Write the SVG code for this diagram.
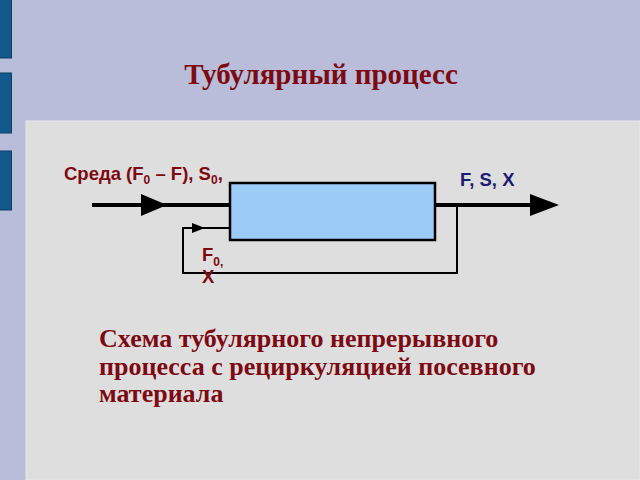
<svg xmlns="http://www.w3.org/2000/svg" width="640" height="480" viewBox="0 0 640 480">
<defs>
<style>
.bar{fill:#125a8c;stroke:#0b3f66;stroke-width:1}
.ser{font-family:"Liberation Serif","Times New Roman",serif;font-weight:bold;fill:#7d0a12}
.sans{font-family:"Liberation Sans",Arial,sans-serif;font-weight:bold}
.red{fill:#7d0a12}
.blue{fill:#1c1c70}
.thick{stroke:#000;stroke-width:4;fill:none}
.thin{stroke:#000;stroke-width:2;fill:none}
</style>
</defs>
<rect width="640" height="480" fill="#b9bdd9"/>
<rect class="bar" x="-1" y="-1" width="12.5" height="59"/>
<rect class="bar" x="-1" y="73" width="12.5" height="60"/>
<rect class="bar" x="-1" y="151" width="12.5" height="59"/>
<rect x="26" y="121" width="614" height="359" fill="#dedede" stroke="#e8e8ec" stroke-width="1"/>
<text class="ser" x="321" y="84" font-size="29" text-anchor="middle">Тубулярный процесс</text>
<g id="connectors">
<line class="thick" x1="92" y1="205" x2="230" y2="205"/>
<polygon points="141,194 167,205 141,216" fill="#000"/>
<line class="thick" x1="435" y1="205" x2="532" y2="205"/>
<polygon points="530,194 559,205 530,216" fill="#000"/>
<polyline class="thin" points="457,205 457,273 183,273 183,228 230,228"/>
<polygon points="192,223 205,228 192,233" fill="#000"/>
</g>
<g id="reactor">
<rect x="230" y="183" width="205" height="57" fill="#9dcbf8" stroke="#000" stroke-width="2.5"/>
</g>
<g id="labels">
<text class="sans red" x="64" y="180" font-size="18.5">Среда (F<tspan font-size="12" dy="4">0</tspan><tspan dy="-4"> – F), S</tspan><tspan font-size="12" dy="4">0</tspan><tspan dy="-4">,</tspan></text>
<text class="sans blue" x="460" y="186" font-size="18.5">F, S, X</text>
<text class="sans red" x="202" y="261" font-size="18.5">F<tspan font-size="12" dy="5">0,</tspan></text>
<text class="sans red" x="202" y="283" font-size="18.5">X</text>
</g>
<g id="caption">
<text class="ser" x="99" y="347" font-size="26">Схема тубулярного непрерывного</text>
<text class="ser" x="99" y="374.5" font-size="26">процесса с рециркуляцией посевного</text>
<text class="ser" x="99" y="402" font-size="26">материала</text>
</g>
</svg>
